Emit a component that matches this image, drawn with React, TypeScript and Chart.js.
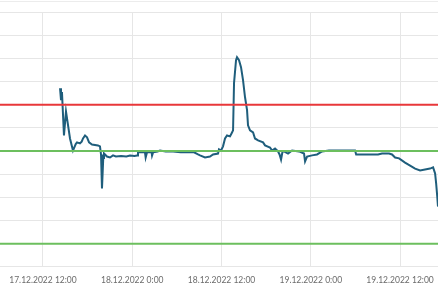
import React, { useEffect, useRef } from "react";
import { Chart, registerables } from "chart.js";

Chart.register(...registerables);

// x in hours since 17.12.2022 0:00
const X_MIN = 6.22;
const X_MAX = 65.1;
const Y_MIN = 14;
const Y_MAX = 25;
const TICK_HOURS = [12, 24, 36, 48, 60];
const UPPER_LIMIT = [21];
const TARGET_LINES = [19, 15];

const times = [
  14.29, 14.42, 14.55, 14.82, 15.09, 15.63, 16.03, 16.4, 16.57, 16.97, 17.2, 17.38, 17.65, 17.92,
  18.19, 18.59, 19.39, 19.66, 19.8, 19.93, 20.1, 20.2, 20.6, 21.01, 21.41, 21.8, 22.5, 23.2, 23.7,
  24.3, 24.64, 24.77, 25.5, 25.71, 25.8, 25.98, 26.6, 26.66, 26.8, 27.4, 27.73, 28.5, 29.5, 30.5,
  31.5, 32.3, 32.84, 33.11, 33.78, 34.45, 34.86, 35.53, 35.66, 35.93, 36.2, 36.47, 36.74, 37.14,
  37.41, 37.55, 37.68, 37.95, 38.08, 38.35, 38.62, 38.89, 39.16, 39.43, 39.56, 39.83, 40.24, 40.5,
  40.91, 41.58, 41.85, 42.52, 42.79, 43.19, 43.6, 43.8, 44.0, 44.2, 44.4, 44.94, 45.48, 46.42,
  47.09, 47.23, 47.5, 48.17, 48.84, 49.51, 50.45, 52.2, 53.95, 54.1, 57.04, 57.58, 58.52, 58.92,
  59.33, 59.87, 60.67, 61.35, 62.02, 62.69, 63.36, 64.03, 64.44, 64.71, 64.85, 65.0, 65.1,
];
const values = [
  21.71, 21.19, 21.54, 19.67, 20.71, 19.54, 19.02, 19.3, 19.37, 19.33, 19.4, 19.54, 19.67, 19.59,
  19.37, 19.28, 19.24, 19.2, 18.85, 17.38, 18.7, 18.89, 18.76, 18.72, 18.81, 18.76, 18.78, 18.76, 18.8,
  18.78, 18.8, 18.94, 18.94, 18.94, 18.72, 18.94, 18.94, 18.8, 18.94, 18.98, 19.02, 18.98, 18.98, 18.94,
  18.94, 18.94, 18.85, 18.81, 18.72, 18.76, 18.85, 18.89, 19.07, 19.02, 19.2, 19.54, 19.67, 19.63,
  19.8, 19.89, 21.93, 22.92, 23.05, 22.92, 22.62, 22.06, 21.32, 20.76, 20.11, 19.89, 19.8, 19.54,
  19.46, 19.37, 19.24, 19.15, 19.02, 19.11, 18.98, 18.85, 18.63, 18.98, 18.98, 18.89, 19.02, 18.98,
  18.89, 18.55, 18.76, 18.81, 18.85, 18.98, 19.02, 19.02, 19.02, 18.85, 18.85, 18.89, 18.89, 18.85,
  18.72, 18.68, 18.5, 18.37, 18.24, 18.16, 18.2, 18.24, 18.29, 18.03, 17.6, 17.03, 16.6,
];

function hourLabel(h: number): string {
  const day = 17 + Math.floor(h / 24);
  const hour = Math.round(h % 24);
  return `${day}.12.2022 ${hour}:00`;
}

export default function App() {
  const ref = useRef<HTMLCanvasElement | null>(null);

  useEffect(() => {
    if (!ref.current) return;
    const span = (v: number) => [
      { x: X_MIN, y: v },
      { x: X_MAX, y: v },
    ];
    const chart = new Chart(ref.current, {
      type: "line",
      data: {
        datasets: [
          ...UPPER_LIMIT.map((v) => ({
            data: span(v),
            borderColor: "#e8373a",
            borderWidth: 2,
            pointRadius: 0,
            order: 0,
          })),
          ...TARGET_LINES.map((v) => ({
            data: span(v),
            borderColor: "#6cbf5e",
            borderWidth: 2,
            pointRadius: 0,
            order: 0,
          })),
          {
            data: times.map((t, i) => ({ x: t, y: values[i] })),
            borderColor: "#1f5e7c",
            borderWidth: 2,
            pointRadius: 0,
            tension: 0,
            order: 1,
          },
        ],
      },
      options: {
        animation: false,
        responsive: false,
        maintainAspectRatio: false,
        layout: { padding: { top: 12, bottom: -1, left: 0, right: 0 } },
        plugins: { legend: { display: false }, tooltip: { enabled: false } },
        scales: {
          x: {
            type: "linear",
            min: X_MIN,
            max: X_MAX,
            afterBuildTicks: (scale: any) => {
              scale.ticks = TICK_HOURS.map((v) => ({ value: v }));
            },
            afterFit: (scale: any) => {
              scale.paddingLeft = 0;
              scale.paddingRight = 0;
            },
            grid: { color: "#e6e6e6", drawTicks: false, tickLength: 0 },
            border: { display: false },
            ticks: {
              autoSkip: false,
              maxRotation: 0,
              padding: 8,
              color: "#6b6b6b",
              font: { family: "Lato", size: 8.5 },
              callback: (v: any) => hourLabel(Number(v)),
            },
          },
          y: {
            min: Y_MIN,
            max: Y_MAX,
            ticks: { display: false, stepSize: 1 },
            grid: { color: "#e6e6e6", drawTicks: false, tickLength: 0 },
            border: { display: false },
          },
        },
      },
    });
    return () => chart.destroy();
  }, []);

  return (
    <div style={{ position: "fixed", left: 0, top: 0, width: 438, height: 292, overflow: "hidden", background: "#fff" }}>
      <div style={{ position: "absolute", left: 0, top: 1, width: 438, height: 1, background: "#ececec" }} />
      <canvas ref={ref} width={438} height={292} style={{ display: "block", width: 438, height: 292 }} />
    </div>
  );
}
